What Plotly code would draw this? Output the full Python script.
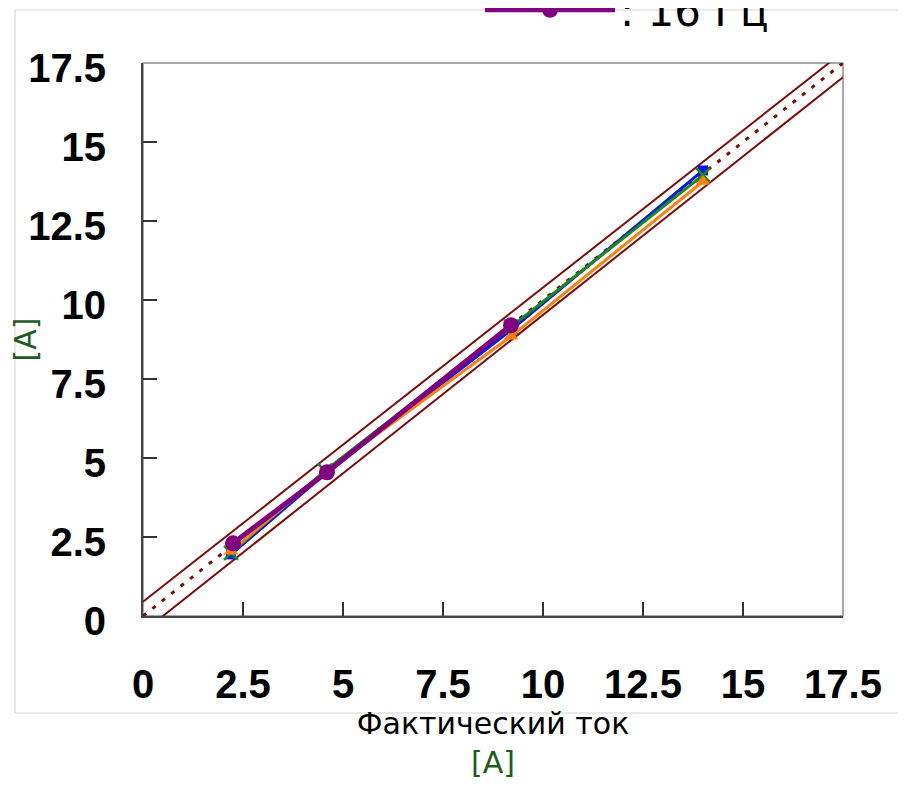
import plotly.graph_objects as go

# ---- data ----
actual_current = [2.2, 4.55, 9.2, 14.0]
blue_values = [1.95, 4.5, 9.05, 14.1]
green_values = [2.0, 4.6, 9.15, 13.95]
orange_values = [2.05, 4.55, 8.85, 13.75]
purple_x = [2.25, 4.6, 9.2]
purple_values = [2.3, 4.55, 9.2]

ideal_x = [0, 17.5]
ideal_y = [0, 17.5]
upper_x = [0, 17.5]
upper_y = [0.45, 17.85]
lower_x = [0, 17.5]
lower_y = [-0.5, 17.05]

tick_vals = [0, 2.5, 5, 7.5, 10, 12.5, 15, 17.5]
tick_text = ["0", "2.5", "5", "7.5", "10", "12.5", "15", "17.5"]

legend_name = ": 16 Гц"
x_title = "Фактический ток"
unit = "[A]"

DARKRED = "#7f0a0a"
GREEN_TXT = "#1f5a1f"
TEXT_FONT = "DejaVu Sans"

fig = go.Figure()

fig.add_trace(go.Scatter(x=upper_x, y=upper_y, mode="lines",
                         line=dict(color=DARKRED, width=2), showlegend=False, name="верхняя граница"))
fig.add_trace(go.Scatter(x=lower_x, y=lower_y, mode="lines",
                         line=dict(color=DARKRED, width=2), showlegend=False, name="нижняя граница"))
fig.add_trace(go.Scatter(x=ideal_x, y=ideal_y, mode="lines",
                         line=dict(color=DARKRED, width=3, dash="4px,8px"), showlegend=False, name="идеал"))

fig.add_trace(go.Scatter(x=actual_current, y=blue_values, mode="lines+markers",
                         line=dict(color="#0018f0", width=3),
                         marker=dict(symbol="square", size=10, color="#0018f0"),
                         showlegend=False, name="серия 1"))
fig.add_trace(go.Scatter(x=actual_current, y=green_values, mode="lines+markers",
                         line=dict(color="#1a8a1a", width=3),
                         marker=dict(symbol="x-thin", size=14, line=dict(color="#1a8a1a", width=2.5)),
                         showlegend=False, name="серия 2"))
fig.add_trace(go.Scatter(x=actual_current, y=orange_values, mode="lines+markers",
                         line=dict(color="#ff7f0e", width=3),
                         marker=dict(symbol="triangle-up", size=13, color="#ff7f0e"),
                         showlegend=False, name="серия 3"))
fig.add_trace(go.Scatter(x=purple_x, y=purple_values, mode="lines+markers",
                         line=dict(color="#800080", width=5),
                         marker=dict(symbol="circle", size=16, color="#800080"),
                         showlegend=True, name=legend_name))

axis_common = dict(
    range=[0, 17.5],
    tickvals=tick_vals,
    ticktext=tick_text,
    tickangle=0,
    ticks="inside",
    ticklen=14,
    tickwidth=1.5,
    tickcolor="#333333",
    showline=True,
    linecolor="#444444",
    linewidth=2,
    showgrid=False,
    zeroline=False,
    automargin=False,
    tickfont=dict(family="Liberation Sans", size=40, color="black", weight="bold"),
)

fig.update_xaxes(**axis_common, ticklabelstandoff=32,
                 title=dict(text=f"{x_title}<br><span style='color:{GREEN_TXT}'>{unit}</span>",
                            font=dict(family=TEXT_FONT, size=30, color="black"),
                            standoff=8))
fig.update_yaxes(**axis_common, ticklabelstandoff=27, ticklabelshift=5,
                 title=dict(text=unit, font=dict(family=TEXT_FONT, size=30, color=GREEN_TXT),
                            standoff=7))

fig.update_layout(
    width=906, height=788,
    margin=dict(l=135, r=71, t=55, b=180, autoexpand=False),
    paper_bgcolor="white", plot_bgcolor="white",
    showlegend=True,
    legend=dict(x=(480 - 143) / 700, xref="paper", y=(616 - 10) / 553, yref="paper",
                xanchor="left", yanchor="middle",
                font=dict(family=TEXT_FONT, size=42, color="black"),
                itemwidth=130, bgcolor="rgba(0,0,0,0)"),
    shapes=[
        dict(type="rect", xref="paper", yref="paper", x0=0, x1=1, y0=0, y1=1,
             line=dict(color="#8c8c8c", width=1.5), layer="below"),
        dict(type="rect", xref="paper", yref="paper",
             x0=(15 - 143) / 700, x1=(910 - 143) / 700,
             y0=(616 - 713) / 553, y1=(616 - 10) / 553,
             line=dict(color="#d4d4d4", width=1), layer="below"),
        dict(type="line", xref="paper", yref="paper",
             x0=(3 - 143) / 700, x1=(3 - 143) / 700,
             y0=(616 - 713) / 553, y1=(616 + 5) / 553,
             line=dict(color="#d4d4d4", width=1), layer="below"),
    ],
)

fig.write_html("out.html")
